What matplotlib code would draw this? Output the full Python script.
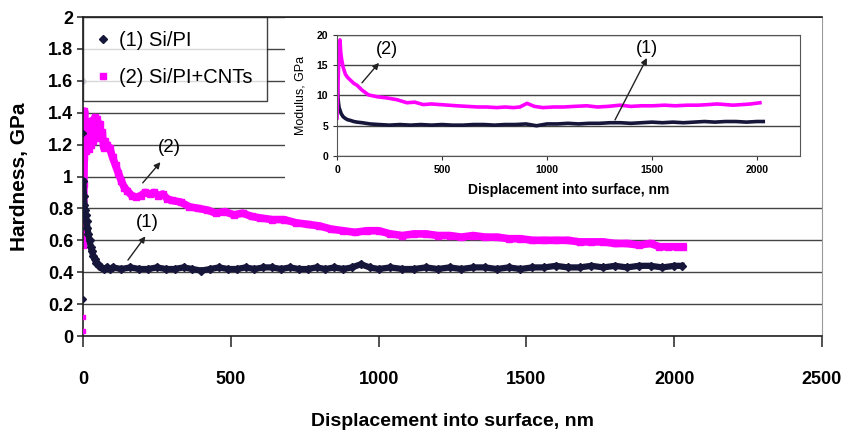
import matplotlib
matplotlib.use("Agg")
import matplotlib.pyplot as plt
from matplotlib.patches import Rectangle

plt.rcParams['font.family'] = ['Liberation Sans', 'DejaVu Sans']

BLACK = '#16163a'
MAGENTA = '#ff00ff'

# hardness, sample (1) Si/PI
h1_start_x = [0, 0, 0]
h1_start_y = [0.23, 1.60, 1.27]
h1_x = [1, 3, 5, 7, 9, 12, 15, 18, 22, 26,
        30, 35, 40, 45, 50, 55, 60, 70, 80, 90,
        100, 130, 160, 190, 220, 250, 280, 310, 340, 370,
        400, 430, 460, 490, 520, 550, 580, 610, 640, 670,
        700, 730, 760, 790, 820, 850, 880, 910, 940, 970,
        1000, 1040, 1080, 1120, 1160, 1200, 1240, 1280, 1320, 1360,
        1400, 1440, 1480, 1520, 1560, 1600, 1640, 1680, 1720, 1760,
        1800, 1840, 1880, 1920, 1960, 2000, 2025]
h1_y = [0.97, 0.88, 0.82, 0.79, 0.76, 0.72, 0.68, 0.64, 0.60, 0.56,
        0.53, 0.50, 0.48, 0.46, 0.45, 0.44, 0.43, 0.42, 0.43, 0.42,
        0.43, 0.42, 0.43, 0.42, 0.42, 0.43, 0.42, 0.42, 0.43, 0.42,
        0.41, 0.42, 0.43, 0.42, 0.42, 0.43, 0.42, 0.43, 0.43, 0.42,
        0.43, 0.42, 0.42, 0.43, 0.42, 0.43, 0.42, 0.43, 0.45, 0.43,
        0.42, 0.43, 0.42, 0.42, 0.43, 0.42, 0.43, 0.42, 0.43, 0.43,
        0.42, 0.43, 0.42, 0.43, 0.43, 0.44, 0.43, 0.43, 0.44, 0.43,
        0.44, 0.43, 0.44, 0.44, 0.43, 0.44, 0.44]

# hardness, sample (2) Si/PI+CNTs
h2_start_x = [0, 0]
h2_start_y = [0.03, 0.12]
h2_x = [1, 2, 3, 4, 5, 7, 9, 11, 13, 15,
        18, 21, 24, 27, 30, 33, 36, 40, 44, 48,
        52, 56, 60, 65, 70, 75, 80, 90, 100, 110,
        120, 130, 140, 150, 165, 180, 195, 210, 225, 240,
        255, 270, 285, 300, 330, 360, 390, 420, 450, 480,
        510, 540, 570, 600, 640, 680, 720, 760, 800, 840,
        880, 920, 960, 1000, 1040, 1080, 1120, 1160, 1200, 1240,
        1280, 1320, 1360, 1400, 1440, 1480, 1520, 1560, 1600, 1640,
        1680, 1720, 1760, 1800, 1840, 1880, 1920, 1950, 1980, 2010,
        2030]
h2_y = [0.57, 0.75, 0.95, 1.12, 1.41, 1.20, 1.33, 1.16, 1.30, 1.18,
        1.34, 1.17, 1.32, 1.20, 1.35, 1.22, 1.33, 1.37, 1.24, 1.36,
        1.27, 1.33, 1.25, 1.28, 1.18, 1.22, 1.20, 1.18, 1.12, 1.07,
        1.02, 0.97, 0.93, 0.91, 0.88, 0.87, 0.88, 0.90, 0.89, 0.90,
        0.88, 0.89, 0.86, 0.85, 0.84, 0.81, 0.80, 0.79, 0.77, 0.78,
        0.76, 0.77, 0.75, 0.74, 0.73, 0.73, 0.71, 0.70, 0.69, 0.67,
        0.66, 0.65, 0.66, 0.66, 0.64, 0.63, 0.64, 0.64, 0.63, 0.63,
        0.62, 0.63, 0.62, 0.62, 0.61, 0.61, 0.60, 0.60, 0.60, 0.60,
        0.59, 0.59, 0.59, 0.58, 0.58, 0.57, 0.58, 0.56, 0.56, 0.56,
        0.56]

# modulus, sample (1)
m1_x = [0, 2, 4, 7, 10, 14, 20, 29, 40, 50,
        62, 80, 95, 120, 157, 200, 250, 300, 350, 400,
        450, 500, 550, 600, 650, 700, 750, 800, 850, 900,
        950, 1000, 1050, 1100, 1150, 1200, 1250, 1300, 1350, 1400,
        1450, 1500, 1550, 1600, 1650, 1700, 1750, 1800, 1850, 1900,
        1950, 2000, 2030]
m1_y = [15.4, 12.0, 10.0, 8.8, 8.0, 7.6, 7.0, 6.5, 6.2, 6.0,
        5.9, 5.7, 5.6, 5.5, 5.3, 5.2, 5.1, 5.2, 5.1, 5.2,
        5.1, 5.2, 5.1, 5.1, 5.2, 5.2, 5.1, 5.2, 5.2, 5.3,
        5.0, 5.3, 5.3, 5.4, 5.3, 5.4, 5.4, 5.5, 5.5, 5.4,
        5.5, 5.6, 5.5, 5.6, 5.5, 5.6, 5.7, 5.6, 5.7, 5.7,
        5.6, 5.7, 5.7]

# modulus, sample (2)
m2_x = [0, 5, 10, 14, 18, 22, 29, 40, 50, 62,
        80, 95, 119, 150, 190, 238, 286, 333, 370, 410,
        450, 490, 530, 571, 620, 670, 714, 760, 800, 840,
        871, 905, 940, 980, 1031, 1080, 1130, 1190, 1240, 1290,
        1348, 1400, 1450, 1505, 1560, 1610, 1667, 1720, 1770, 1810,
        1850, 1886, 1930, 1970, 2014]
m2_y = [6.3, 12.0, 17.5, 19.2, 17.0, 16.0, 14.7, 13.5, 13.0, 12.6,
        12.0, 11.7, 10.9, 10.1, 9.8, 9.6, 9.3, 8.8, 8.9, 8.5,
        8.6, 8.5, 8.4, 8.3, 8.2, 8.1, 8.1, 8.0, 8.1, 8.0,
        8.1, 8.7, 8.2, 8.0, 8.1, 8.1, 8.2, 8.3, 8.1, 8.2,
        8.4, 8.2, 8.3, 8.3, 8.4, 8.3, 8.4, 8.4, 8.5, 8.6,
        8.5, 8.4, 8.5, 8.6, 8.8]

main_yticks = [0, 0.2, 0.4, 0.6, 0.8, 1, 1.2, 1.4, 1.6, 1.8, 2]
main_ytick_labels = ['0', '0.2', '0.4', '0.6', '0.8', '1', '1.2', '1.4', '1.6', '1.8', '2']
main_xticks = [0, 500, 1000, 1500, 2000, 2500]
inset_xticks = [0, 500, 1000, 1500, 2000]
inset_yticks = [0, 5, 10, 15, 20]

ARROW = dict(arrowstyle='-|>', color='#222222', lw=1, shrinkA=0, shrinkB=0,
             mutation_scale=9)

fig = plt.figure(figsize=(8.55, 4.34), dpi=100)
ax = fig.add_axes([0.0971, 0.2258, 0.8643, 0.735])

ax.plot(h1_start_x, h1_start_y, 'D', color=BLACK, ms=3, zorder=3)
ax.plot(h1_x, h1_y, '-', color=BLACK, lw=4.5, marker='D', ms=4,
        label='(1) Si/PI', zorder=3)
ax.plot(h2_start_x, h2_start_y, 's', color=MAGENTA, ms=3.5, zorder=3)
ax.plot(h2_x, h2_y, '-', color=MAGENTA, lw=5.5, marker='s', ms=4.5,
        label='(2) Si/PI+CNTs', zorder=2)

ax.set_xlim(0, 2500)
ax.set_ylim(0, 2)
ax.set_xticks(main_xticks)
ax.set_yticks(main_yticks)
ax.set_yticklabels(main_ytick_labels)
ax.yaxis.grid(True, color='#444444', lw=1.0)
ax.set_axisbelow(True)
ax.tick_params(axis='both', labelsize=13, direction='out', width=1.2, color='#333333')
ax.tick_params(axis='x', length=8, pad=17)
ax.tick_params(axis='y', length=4, pad=3)
for lab in ax.get_xticklabels() + ax.get_yticklabels():
    lab.set_fontweight('bold')
for side in ['left', 'bottom', 'top']:
    ax.spines[side].set_color('#222222')
    ax.spines[side].set_linewidth(1.2)
ax.spines['right'].set_color('#999999')

ax.set_xlabel('Displacement into surface, nm', fontsize=14, fontweight='bold', labelpad=18)
ax.set_ylabel('Hardness, GPa', fontsize=15, fontweight='bold', labelpad=14)

leg = ax.legend(loc='upper left', bbox_to_anchor=(0, 1.0), fontsize=14.5,
                frameon=True, fancybox=False, borderaxespad=0, handlelength=0.6,
                handletextpad=0.5, borderpad=0.7, labelspacing=0.9, markerscale=0.9)
leg.get_frame().set_edgecolor('#111111')
leg.get_frame().set_linewidth(1.0)
for h in leg.get_lines():
    h.set_linestyle('None')

# curve labels with pointer arrows
ax.text(293, 1.185, '(2)', fontsize=13.5, ha='center', va='center')
ax.annotate('', xy=(262, 1.09), xytext=(202, 0.96), arrowprops=ARROW)
ax.text(219, 0.71, '(1)', fontsize=13.5, ha='center', va='center')
ax.annotate('', xy=(211, 0.625), xytext=(152, 0.476), arrowprops=ARROW)

# white panel behind the inset
fig.add_artist(Rectangle((285 / 855, 1 - 200 / 434), (822 - 285) / 855, (200 - 18) / 434,
                         transform=fig.transFigure, facecolor='white', edgecolor='none',
                         zorder=1))

ins = fig.add_axes([337 / 855, 1 - 156 / 434, (800 - 337) / 855, (156 - 35) / 434])
ins.set_zorder(2)
ins.plot(m1_x, m1_y, '-', color=BLACK, lw=2.6)
ins.plot(m2_x, m2_y, '-', color=MAGENTA, lw=2.6)
ins.set_xlim(0, 2205)
ins.set_ylim(0, 20)
ins.set_xticks(inset_xticks)
ins.set_yticks(inset_yticks)
ins.yaxis.grid(True, color='#444444', lw=1.0)
ins.set_axisbelow(True)
ins.tick_params(axis='both', labelsize=7.5, direction='out', length=3, color='#333333')
for lab in ins.get_xticklabels() + ins.get_yticklabels():
    lab.set_fontweight('bold')
for side in ins.spines:
    ins.spines[side].set_color('#555555')
ins.set_xlabel('Displacement into surface, nm', fontsize=10, fontweight='bold', labelpad=6)
ins.set_ylabel('Modulus, GPa', fontsize=9, labelpad=7)

ins.text(240, 17.6, '(2)', fontsize=13, ha='center', va='center')
ins.annotate('', xy=(200, 15.4), xytext=(119, 12.1), arrowprops=ARROW)
ins.text(1476, 17.8, '(1)', fontsize=13, ha='center', va='center')
ins.annotate('', xy=(1476, 16.2), xytext=(1324, 5.96), arrowprops=ARROW)

fig.savefig('out.png', dpi=100)
